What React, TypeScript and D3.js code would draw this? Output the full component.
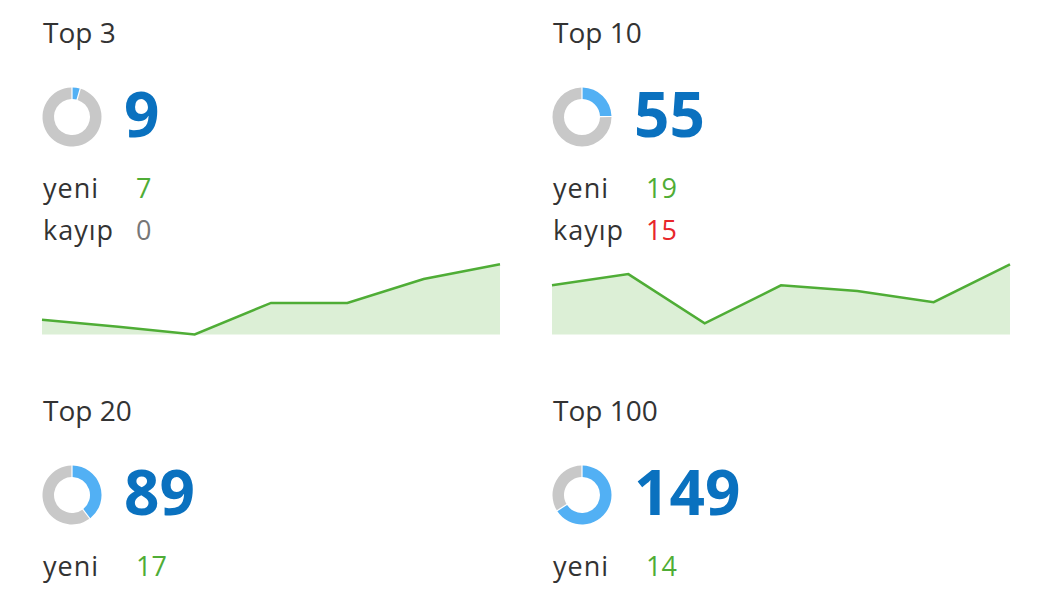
import React, { useRef, useEffect } from 'react';
import * as d3 from 'd3';

// panel data
const titles = ['Top 3', 'Top 10', 'Top 20', 'Top 100'];
const totals = [9, 55, 89, 149];
const newCounts = [7, 19, 17, 14];
const lostCounts: (number | null)[] = [0, 15, null, null];
const keywordPool = 225;

// sparklines (top row only visible)
const trendTop3 = [2.1, 1.1, 0, 4.5, 4.5, 7.9, 10];
const trendTop10 = [7, 8.6, 1.6, 7, 6.2, 4.6, 10];
const trends: (number[] | null)[] = [trendTop3, trendTop10, null, null];

const FONT = '"Open Sans", "DejaVu Sans", sans-serif';

export default function App(): JSX.Element {
  const svgRef = useRef<SVGSVGElement>(null);

  useEffect(() => {
    const el = svgRef.current;
    if (el == null) return;
    const svg = d3.select(el);
    svg.selectAll('*').remove();

    const pie = d3
      .pie<number>()
      .sort(null)
      .value((d) => d)
      .padAngle(0.035);
    const arc = d3.arc<d3.PieArcDatum<number>>().innerRadius(18).outerRadius(29.5);

    titles.forEach((title, i) => {
      const col = i % 2;
      const row = Math.floor(i / 2);
      const left = 43 + col * 510;
      const top = row * 378;
      const g = svg.append('g').attr('transform', `translate(${left}, ${top})`);

      // title
      g.append('text')
        .attr('x', 0)
        .attr('y', 43)
        .attr('font-size', 28)
        .attr('fill', '#333')
        .text(title);

      // donut
      const donut = g.append('g').attr('transform', 'translate(29, 117)');
      donut
        .selectAll('path')
        .data(pie([totals[i], keywordPool - totals[i]]))
        .join('path')
        .attr('d', arc)
        .attr('fill', (_d, k) => (k === 0 ? '#52b0f4' : '#c8c8c8'));

      // big number
      g.append('text')
        .attr('x', 81)
        .attr('y', 137)
        .attr('font-size', 62)
        .attr('font-weight', 700)
        .attr('fill', '#0a71bf')
        .text(totals[i]);

      // yeni / kayıp
      g.append('text')
        .attr('x', 0)
        .attr('y', 198)
        .attr('font-size', 27)
        .attr('letter-spacing', 1)
        .attr('fill', '#333')
        .text('yeni');
      g.append('text')
        .attr('x', 93)
        .attr('y', 198)
        .attr('font-size', 27)
        .attr('fill', '#4fad36')
        .text(newCounts[i]);

      const lost = lostCounts[i];
      if (lost != null) {
        g.append('text')
          .attr('x', 0)
          .attr('y', 240)
          .attr('font-size', 27)
          .attr('letter-spacing', 1)
          .attr('fill', '#333')
          .text('kayıp');
        g.append('text')
          .attr('x', 93)
          .attr('y', 240)
          .attr('font-size', 27)
          .attr('fill', lost > 0 ? '#e8262b' : '#777')
          .text(lost);
      }

      // sparkline
      const trend = trends[i];
      if (trend) {
        const x = d3
          .scaleLinear()
          .domain([0, trend.length - 1])
          .range([-1, 457]);
        const y = d3.scaleLinear().domain([0, 10]).range([334.5, 264.3]);
        const area = d3
          .area<number>()
          .x((_d, k) => x(k))
          .y0(y(0))
          .y1((d) => y(d));
        const line = d3
          .line<number>()
          .x((_d, k) => x(k))
          .y((d) => y(d));
        g.append('path').attr('d', area(trend)).attr('fill', '#dcefd6');
        g.append('path')
          .attr('d', line(trend))
          .attr('fill', 'none')
          .attr('stroke', '#4fad36')
          .attr('stroke-width', 2.5);
      }
    });
  }, []);

  return (
    <svg
      ref={svgRef}
      width={1041}
      height={599}
      style={{ position: 'absolute', left: 0, top: 0, background: '#fff', fontFamily: FONT }}
    />
  );
}
